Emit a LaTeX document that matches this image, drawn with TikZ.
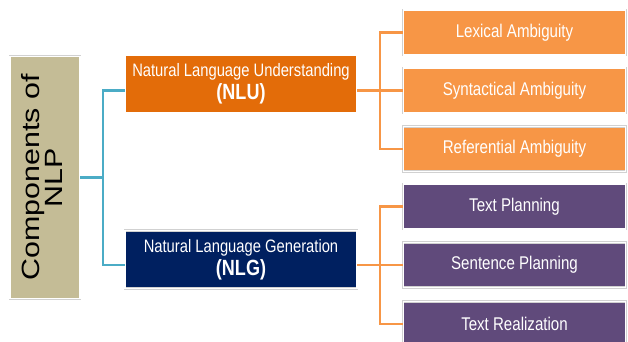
\documentclass[tikz,border=0pt]{standalone}
\usepackage{fontspec}
\setmainfont{Liberation Sans}[FakeStretch=0.82]
\newfontfamily\rootfont{Liberation Sans}

\definecolor{rootfill}{RGB}{196,188,150}
\definecolor{nlufill}{RGB}{227,108,9}
\definecolor{nlgfill}{RGB}{0,32,96}
\definecolor{ambfill}{RGB}{247,150,70}
\definecolor{planfill}{RGB}{96,74,123}
\definecolor{tealline}{RGB}{75,172,198}
\definecolor{orangeline}{RGB}{247,150,70}

\tikzset{
  box/.style={draw=black!18, double=white, line width=0.35pt,
    double distance=0.9pt, inner sep=0pt, align=center},
  rootbox/.style={box, fill=rootfill, minimum width=52.5pt,
    minimum height=182pt},
  midbox/.style={box, text=white, minimum width=174pt,
    minimum height=43.5pt, font=\fontsize{13.5}{17}\selectfont},
  leafbox/.style={box, text=white, minimum width=167pt,
    minimum height=33.75pt, font=\fontsize{13.8}{15.5}\selectfont},
  tealwire/.style={draw=tealline, line width=2.2pt},
  orangewire/.style={draw=orangeline, line width=2.2pt}
}

\begin{document}
\begin{tikzpicture}[x=0.75pt, y=-0.75pt]
  \useasboundingbox (0,0) rectangle (628,342);

  % Boxes
  \node[rootbox] (root) at (45,177.5)
    {\rotatebox{90}{\scalebox{1}[0.82]{\rootfont\fontsize{22.8}{19.5}\selectfont
      \begin{tabular}{@{}c@{}}Components of\\NLP\end{tabular}}}};

  \node[midbox, fill=nlufill] (nlu) at (241,84)
    {Natural Language Understanding\\{\fontsize{16.5}{16}\selectfont\bfseries (NLU)}};
  \node[midbox, fill=nlgfill] (nlg) at (241,259.5)
    {Natural Language Generation\\{\fontsize{16.5}{16}\selectfont\bfseries (NLG)}};

  \node[leafbox, fill=ambfill] (lex) at (514.5,32.5) {Lexical Ambiguity};
  \node[leafbox, fill=ambfill] (syn) at (514.5,90.5) {Syntactical Ambiguity};
  \node[leafbox, fill=ambfill] (ref) at (514.5,149) {Referential Ambiguity};
  \node[leafbox, fill=planfill] (tpl) at (514.5,206.5) {Text Planning};
  \node[leafbox, fill=planfill] (spl) at (514.5,265) {Sentence Planning};
  \node[leafbox, fill=planfill] (trl) at (514.5,324) {Text Realization};

  % Junctions
  \coordinate (tj) at (103,177.5);
  \coordinate (oja) at (380,90.5);
  \coordinate (ojb) at (380,265);

  % Arcs
  \draw[tealwire] (root.east) -- (tj);
  \draw[tealwire] (nlu.west |- syn.west) -| (tj) |- (nlg.west |- spl.west);

  \draw[orangewire] (nlu.east |- syn.west) -- (syn.west);
  \draw[orangewire] (lex.west) -| (oja) |- (ref.west);

  \draw[orangewire] (nlg.east |- spl.west) -- (spl.west);
  \draw[orangewire] (tpl.west) -| (ojb) |- (trl.west);
\end{tikzpicture}
\end{document}
